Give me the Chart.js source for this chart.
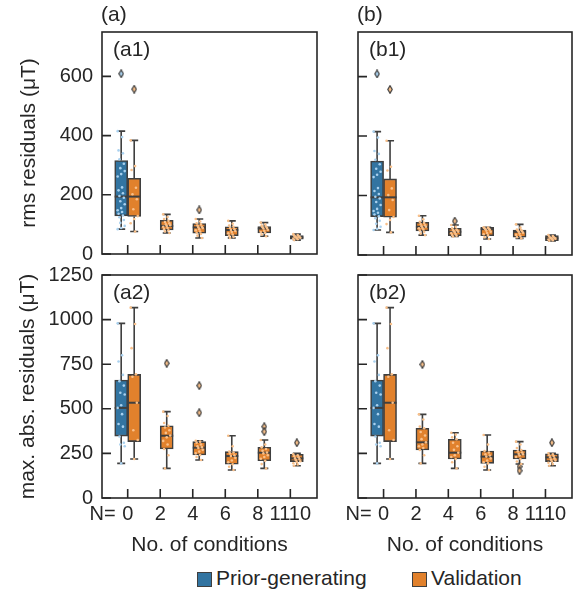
<!DOCTYPE html>
<html>
<head>
<meta charset="utf-8">
<script src="https://cdn.jsdelivr.net/npm/chart.js@4.4.0/dist/chart.umd.min.js"></script>
<style>
  html, body { margin: 0; padding: 0; background: #fff; }
  #fig { position: relative; width: 588px; height: 595px; overflow: hidden;
         font-family: "Liberation Sans", Arial, sans-serif; color: #262626; }
  #fig canvas { position: absolute; }
  .sw { position: absolute; top: 572px; width: 13px; height: 13px; border: 1px solid #3f3f3f; }
  .lt { position: absolute; top: 566px; font-size: 21px; line-height: 24px; white-space: nowrap; }
</style>
</head>
<body>
<div id="fig">
  <canvas id="a1" width="330" height="275" style="left:0;top:0"></canvas>
  <canvas id="b1" width="258" height="275" style="left:330px;top:0"></canvas>
  <canvas id="a2" width="330" height="315" style="left:0;top:245px"></canvas>
  <canvas id="b2" width="258" height="315" style="left:330px;top:245px"></canvas>
  <span class="sw" style="left:197px;background:#3274A1"></span>
  <span class="lt" style="left:216px">Prior-generating</span>
  <span class="sw" style="left:412px;background:#E1812C"></span>
  <span class="lt" style="left:431px">Validation</span>
</div>
<script>
// x categories (number of conditions)
const categories = ['0', '2', '4', '6', '8', '1110'];
const rmsTicks = [0, 200, 400, 600];
const maxTicks = [0, 250, 500, 750, 1000, 1250];

// box stats: [whisker low, q1, median, q3, whisker high]
const rmsPrior = [[84, 129, 194, 316, 415]];
const rmsPriorOut = [[609]];
const rmsPriorPts = [[415, 395, 350, 340, 320, 305, 290, 280, 270, 262, 225, 215, 205, 196, 190, 178, 168, 155, 148, 142, 136, 130, 124, 115, 105, 95, 88, 84]];

const rmsValA = [[76, 127, 194, 256, 384], [71, 81, 95, 114, 134], [54, 70, 90, 103, 118],
                 [54, 62, 81, 92, 112], [60, 71, 86, 93, 106], [47, 50, 56, 62, 67]];
const rmsValAOut = [[557], [], [149], [], [], []];
const rmsValAPts = [
  [384, 297, 284, 224, 202, 185, 151, 128, 118, 104, 76],
  [134, 125, 118, 112, 108, 104, 100, 97, 95, 92, 88, 84, 80, 76, 71],
  [118, 110, 104, 100, 96, 92, 90, 88, 84, 80, 76, 72, 68, 62, 54],
  [112, 102, 96, 92, 88, 84, 81, 78, 74, 70, 66, 62, 58, 54],
  [106, 100, 96, 93, 90, 88, 86, 82, 78, 74, 71, 66, 60],
  [67, 64, 62, 60, 58, 57, 56, 55, 54, 52, 50, 47]];

const rmsValB = [[76, 127, 194, 256, 384], [67, 81, 95, 110, 132], [62, 65, 78, 90, 101],
                 [54, 65, 87, 93, 93], [56, 60, 78, 84, 103], [47, 48, 56, 65, 67]];
const rmsValBOut = [[557], [], [114], [], [], []];
const rmsValBPts = [
  [384, 297, 284, 224, 202, 185, 151, 128, 118, 104, 76],
  [132, 120, 112, 108, 104, 100, 97, 95, 92, 90, 86, 82, 78, 72, 67],
  [101, 95, 90, 86, 84, 82, 80, 78, 76, 74, 70, 67, 65, 62],
  [93, 92, 90, 88, 87, 85, 82, 78, 74, 70, 66, 60, 54],
  [103, 92, 86, 84, 82, 80, 78, 75, 72, 68, 64, 60, 56],
  [67, 64, 62, 60, 58, 57, 56, 55, 54, 52, 50, 48]];

const maxPrior = [[194, 347, 505, 661, 979]];
const maxPriorOut = [[]];
const maxPriorPts = [[979, 800, 765, 690, 655, 630, 590, 580, 520, 505, 470, 415, 400, 345, 310, 300, 290, 194]];

const maxValA = [[219, 316, 534, 693, 1067], [166, 275, 349, 405, 484], [213, 241, 282, 316, 321],
                 [157, 189, 235, 260, 349], [166, 209, 254, 284, 325], [181, 204, 222, 245, 250]];
const maxValAOut = [[], [755], [630, 478], [], [400, 372], [310]];
const maxValAPts = [
  [1067, 975, 840, 693, 680, 534, 380, 325, 219],
  [484, 460, 420, 405, 395, 380, 365, 350, 340, 320, 300, 275, 240, 166],
  [321, 316, 310, 300, 290, 285, 280, 270, 260, 250, 241, 230, 213],
  [349, 290, 260, 255, 250, 240, 235, 225, 210, 200, 189, 175, 157],
  [325, 300, 284, 275, 265, 255, 250, 240, 230, 220, 209, 190, 166],
  [245, 240, 235, 228, 222, 218, 212, 206, 200, 195, 188, 181]];

const maxValB = [[219, 316, 534, 693, 1067], [194, 269, 312, 391, 469], [166, 219, 254, 329, 366],
                 [157, 194, 232, 263, 353], [191, 219, 245, 269, 316], [181, 204, 228, 248, 250]];
const maxValBOut = [[], [749], [], [], [176, 153], [310]];
const maxValBPts = [
  [1067, 975, 840, 693, 680, 534, 380, 325, 219],
  [469, 440, 400, 391, 370, 350, 330, 312, 300, 290, 280, 269, 240, 194],
  [366, 355, 340, 329, 310, 290, 270, 254, 240, 230, 219, 200, 166],
  [353, 300, 263, 255, 245, 238, 232, 222, 210, 200, 194, 175, 157],
  [316, 300, 280, 269, 262, 255, 248, 245, 238, 230, 219, 205, 191],
  [250, 245, 240, 235, 228, 222, 215, 210, 204, 198, 190, 181]];

const BLUE = '#3274A1', ORANGE = '#E1812C';
const BLUE_PT = '#a9d1ef', ORANGE_PT = '#f9c08a';
const EDGE = '#3f3f3f', AXIS = '#262626';
const FONT = "'Liberation Sans', Arial, sans-serif";

Chart.defaults.font.family = FONT;
Chart.defaults.font.size = 20;
Chart.defaults.color = AXIS;

function diamond(fill) {
  const c = document.createElement('canvas');
  c.width = 6; c.height = 9;
  const g = c.getContext('2d');
  g.beginPath();
  g.moveTo(3, 0.7); g.lineTo(5.2, 4.5); g.lineTo(3, 8.3); g.lineTo(0.8, 4.5); g.closePath();
  g.fillStyle = fill; g.fill();
  g.lineWidth = 1.2; g.strokeStyle = EDGE; g.stroke();
  return c;
}

// small fixed spread so strip points don't stack on one line
const jit = k => (((k * 5) % 9) - 4) * 0.027;

const boxData = (stats, off) => stats.map((s, i) => ({ x: i + off, y: [s[1], s[3]] }));
const outData = (outs, off) => outs.flatMap((o, i) => o.map(v => ({ x: i + off, y: v })));
const ptsData = (pts, off) => pts.flatMap((p, i) => p.map((v, k) => ({ x: i + off + jit(k), y: v })));

const boxPlugin = {
  id: 'boxplot',
  beforeDatasetsDraw(chart, args, opts) {
    const { ctx } = chart, xs = chart.scales.x, ys = chart.scales.y;
    ctx.save();
    ctx.strokeStyle = EDGE;
    ctx.lineWidth = 1.6;
    opts.groups.forEach(g => g.stats.forEach((s, i) => {
      const cx = xs.getPixelForValue(i + g.off);
      ctx.beginPath();
      ctx.moveTo(cx, ys.getPixelForValue(s[0])); ctx.lineTo(cx, ys.getPixelForValue(s[1]));
      ctx.moveTo(cx, ys.getPixelForValue(s[3])); ctx.lineTo(cx, ys.getPixelForValue(s[4]));
      [s[0], s[4]].forEach(v => {
        const y = ys.getPixelForValue(v);
        ctx.moveTo(cx - 4, y); ctx.lineTo(cx + 4, y);
      });
      ctx.stroke();
    }));
    ctx.restore();
  },
  afterDatasetDraw(chart, args, opts) {
    const g = opts.groups[args.index];
    if (!g || args.meta.type !== 'bar') return;
    const { ctx } = chart, xs = chart.scales.x, ys = chart.scales.y;
    ctx.save();
    ctx.strokeStyle = EDGE;
    ctx.lineWidth = 2;
    g.stats.forEach((s, i) => {
      const cx = xs.getPixelForValue(i + g.off), y = ys.getPixelForValue(s[2]);
      ctx.beginPath(); ctx.moveTo(cx - 6.5, y); ctx.lineTo(cx + 6.5, y); ctx.stroke();
    });
    ctx.restore();
  },
  afterDraw(chart, args, opts) {
    const { ctx, chartArea: a } = chart, xs = chart.scales.x, ys = chart.scales.y;
    ctx.save();
    ctx.strokeStyle = AXIS;
    ctx.lineWidth = 1.6;
    ctx.strokeRect(a.left, a.top, a.right - a.left, a.bottom - a.top);
    ctx.beginPath();
    xs.ticks.forEach(t => {
      const x = xs.getPixelForValue(t.value);
      ctx.moveTo(x, a.bottom); ctx.lineTo(x, a.bottom - 9);
    });
    ys.ticks.forEach(t => {
      const y = ys.getPixelForValue(t.value);
      ctx.moveTo(a.left, y); ctx.lineTo(a.left + 9, y);
    });
    ctx.stroke();
    ctx.fillStyle = AXIS;
    ctx.textBaseline = 'middle';
    (opts.texts || []).forEach(t => {
      ctx.save();
      ctx.font = (t.size || 21) + 'px ' + FONT;
      ctx.textAlign = t.align || 'left';
      ctx.translate(t.x(a, xs), t.y(a, xs));
      if (t.rot) ctx.rotate(-Math.PI / 2);
      ctx.fillText(t.text, 0, 0);
      ctx.restore();
    });
    ctx.restore();
  }
};

function panel(id, o) {
  const groups = [{ stats: o.prior, off: -0.2 }, { stats: o.val, off: 0.2 }];
  const datasets = [
    { type: 'bar', label: 'Prior-generating', data: boxData(o.prior, -0.2),
      backgroundColor: BLUE, borderColor: EDGE, borderWidth: 1.6, borderSkipped: false, order: 5 },
    { type: 'bar', label: 'Validation', data: boxData(o.val, 0.2),
      backgroundColor: ORANGE, borderColor: EDGE, borderWidth: 1.6, borderSkipped: false, order: 5 },
    { type: 'scatter', data: outData(o.priorOut, -0.2), pointStyle: diamond(BLUE_PT), order: 3 },
    { type: 'scatter', data: outData(o.valOut, 0.2), pointStyle: diamond(ORANGE_PT), order: 3 },
    { type: 'scatter', data: ptsData(o.priorPts, -0.2), backgroundColor: BLUE_PT,
      borderWidth: 0, pointRadius: 1.3, order: 1 },
    { type: 'scatter', data: ptsData(o.valPts, 0.2), backgroundColor: ORANGE_PT,
      borderWidth: 0, pointRadius: 1.3, order: 1 }
  ];

  new Chart(document.getElementById(id), {
    type: 'bar',
    data: { datasets },
    plugins: [boxPlugin],
    options: {
      responsive: false,
      animation: false,
      devicePixelRatio: 1,
      layout: { padding: o.pad },
      datasets: { bar: { barThickness: 13, grouped: false } },
      plugins: {
        legend: { display: false },
        tooltip: { enabled: false },
        boxplot: { groups, texts: o.texts }
      },
      scales: {
        x: {
          type: 'linear', min: -0.79, max: 5.82, offset: false,
          grid: { display: false, drawTicks: false }, border: { display: false },
          afterBuildTicks: s => { s.ticks = categories.map((c, i) => ({ value: i })); },
          afterFit: s => { s.height = o.xH; },
          ticks: { display: o.showX, padding: 4, autoSkip: false, maxRotation: 0,
                   callback: v => categories[v] }
        },
        y: {
          min: 0, max: o.yMax,
          grid: { display: false, drawTicks: false }, border: { display: false },
          afterBuildTicks: s => { s.ticks = o.yTicks.map(v => ({ value: v })); },
          afterFit: s => { s.width = o.yW; },
          ticks: { display: o.showY, padding: 9, callback: v => String(v) }
        }
      }
    }
  });
}

const xTitle = { text: 'No. of conditions', align: 'center',
                 x: a => (a.left + a.right) / 2, y: a => a.bottom + 47 };
const nEq = { text: 'N=', size: 20, align: 'right', x: (a, xs) => xs.getPixelForValue(0) - 12, y: a => a.bottom + 16 };

panel('a1', {
  prior: rmsPrior, priorOut: rmsPriorOut, priorPts: rmsPriorPts,
  val: rmsValA, valOut: rmsValAOut, valPts: rmsValAPts,
  yMax: 750, yTicks: rmsTicks, showX: false, showY: true,
  pad: { top: 32, right: 13, left: 0, bottom: 0 }, yW: 102, xH: 20,
  texts: [
    { text: '(a)', x: a => a.left - 1, y: () => 15 },
    { text: '(a1)', x: a => a.left + 11, y: a => a.top + 18 },
    { text: 'rms residuals (\u03bcT)', align: 'center', rot: true, x: () => 29, y: a => (a.top + a.bottom) / 2 }
  ]
});
panel('b1', {
  prior: rmsPrior, priorOut: rmsPriorOut, priorPts: rmsPriorPts,
  val: rmsValB, valOut: rmsValBOut, valPts: rmsValBPts,
  yMax: 750, yTicks: rmsTicks, showX: false, showY: false,
  pad: { top: 32, right: 16, left: 0, bottom: 0 }, yW: 28, xH: 20,
  texts: [
    { text: '(b)', x: a => a.left - 1, y: () => 15 },
    { text: '(b1)', x: a => a.left + 11, y: a => a.top + 18 }
  ]
});
panel('a2', {
  prior: maxPrior, priorOut: maxPriorOut, priorPts: maxPriorPts,
  val: maxValA, valOut: maxValAOut, valPts: maxValAPts,
  yMax: 1250, yTicks: maxTicks, showX: true, showY: true,
  pad: { top: 30, right: 13, left: 0, bottom: 0 }, yW: 102, xH: 62,
  texts: [
    { text: '(a2)', x: a => a.left + 11, y: a => a.top + 18 },
    { text: 'max. abs. residuals (\u03bcT)', align: 'center', rot: true, x: () => 28, y: a => (a.top + a.bottom) / 2 },
    xTitle, nEq
  ]
});
panel('b2', {
  prior: maxPrior, priorOut: maxPriorOut, priorPts: maxPriorPts,
  val: maxValB, valOut: maxValBOut, valPts: maxValBPts,
  yMax: 1250, yTicks: maxTicks, showX: true, showY: false,
  pad: { top: 30, right: 16, left: 0, bottom: 0 }, yW: 28, xH: 62,
  texts: [
    { text: '(b2)', x: a => a.left + 11, y: a => a.top + 18 },
    xTitle, nEq
  ]
});
</script>
</body>
</html>
